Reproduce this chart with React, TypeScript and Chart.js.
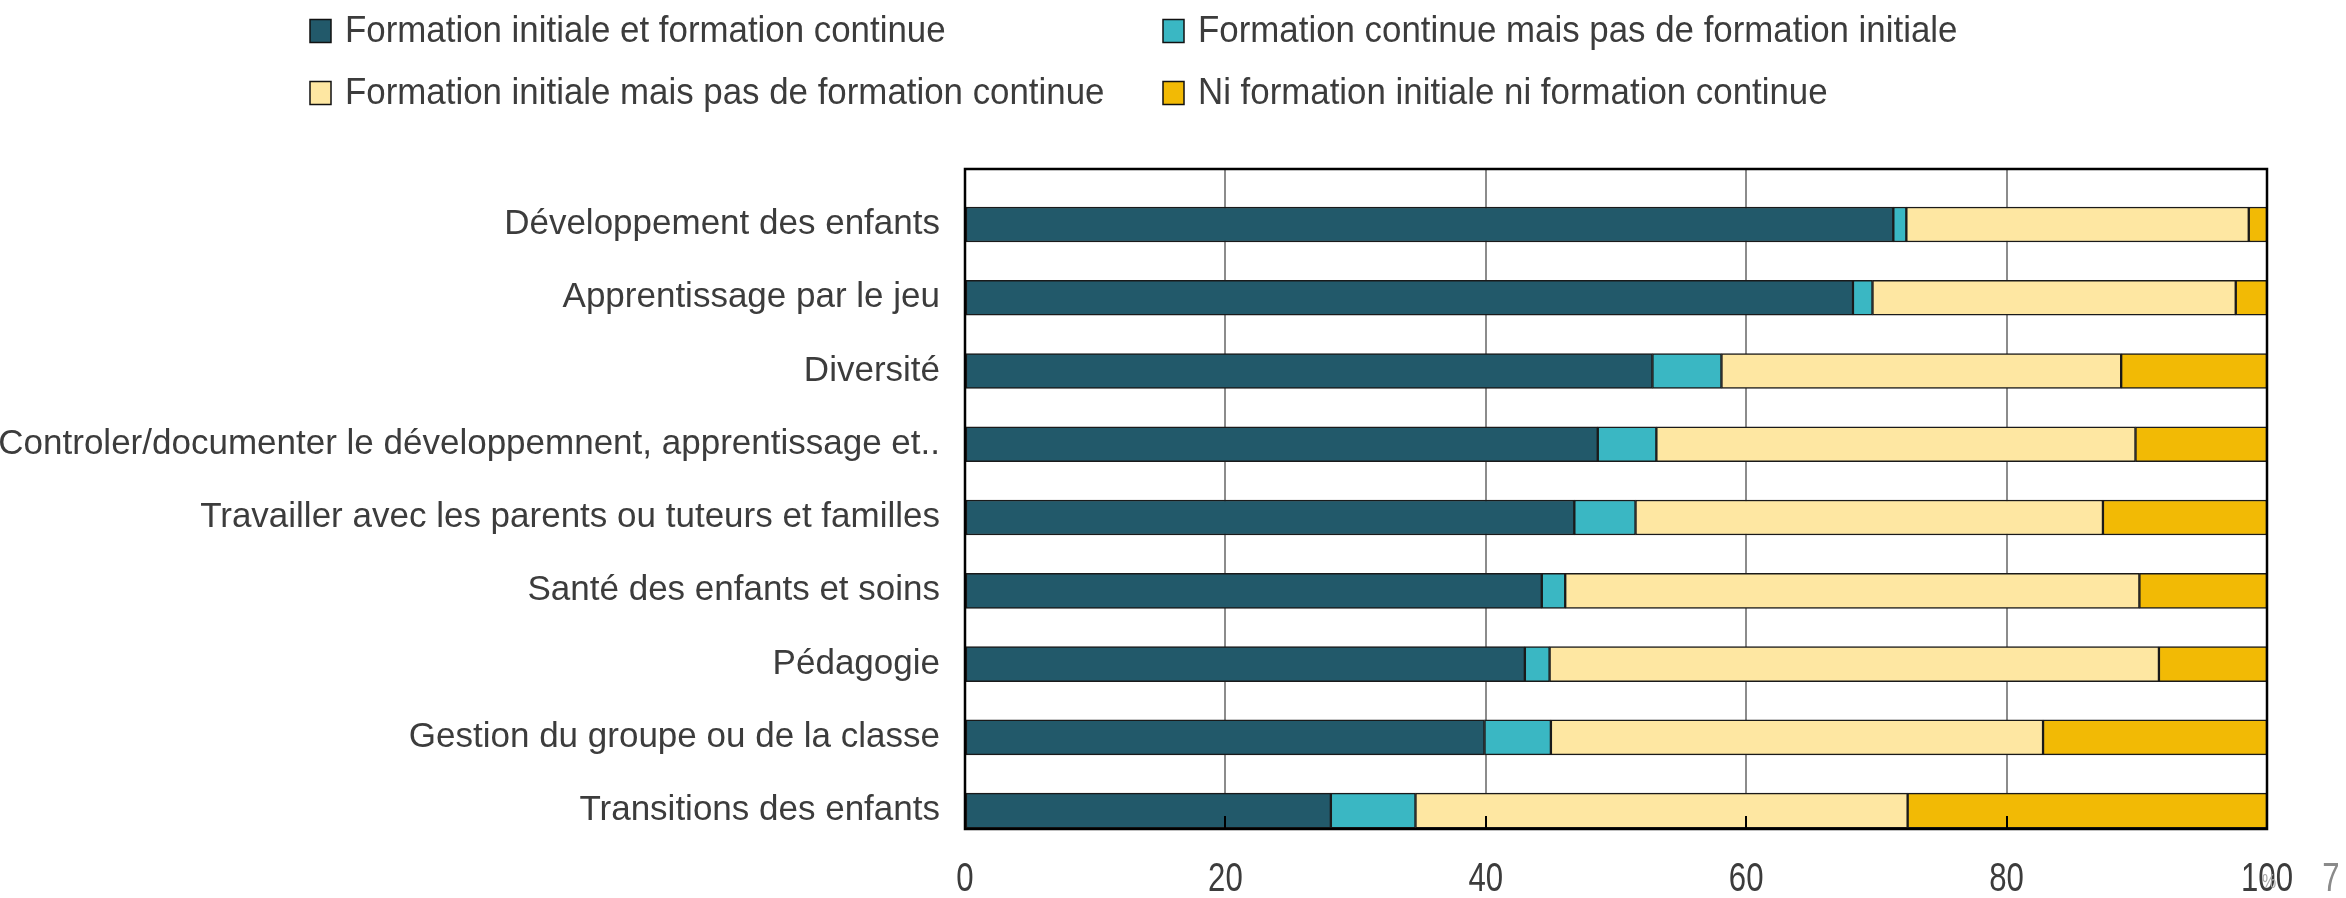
import React, { useEffect, useRef } from "react";
import { Chart, registerables } from "chart.js";

Chart.register(...registerables);

const CATEGORIES = [
  "Développement des enfants",
  "Apprentissage par le jeu",
  "Diversité",
  "Controler/documenter le développemnent, apprentissage et..",
  "Travailler avec les parents ou tuteurs et familles",
  "Santé des enfants et soins",
  "Pédagogie",
  "Gestion du groupe ou de la classe",
  "Transitions des enfants",
];

const SERIES_NAMES = [
  "Formation initiale et formation continue",
  "Formation continue mais pas de formation initiale",
  "Formation initiale mais pas de formation continue",
  "Ni formation initiale ni formation continue",
];

const INITIAL_AND_CONTINUING = [71.3, 68.2, 52.8, 48.6, 46.8, 44.3, 43.0, 39.9, 28.1];
const CONTINUING_ONLY = [1.0, 1.5, 5.3, 4.5, 4.7, 1.8, 1.9, 5.1, 6.5];
const INITIAL_ONLY = [26.3, 27.9, 30.7, 36.8, 35.9, 44.1, 46.8, 37.8, 37.8];
const NEITHER = [1.4, 2.4, 11.2, 10.1, 12.6, 9.8, 8.3, 17.2, 27.6];

const X_TICKS = [0, 20, 40, 60, 80, 100];

const COLORS = ["#22596A", "#3AB7C3", "#FEE7A2", "#F2BA05"];
const TEXT = "#3c3c3c";
const FONT = "'Liberation Sans', Arimo, Arial, sans-serif";

function condensedText(
  ctx: CanvasRenderingContext2D,
  text: string,
  x: number,
  y: number,
  size: number,
  squeeze: number,
  align: CanvasTextAlign,
  baseline: CanvasTextBaseline,
  color: string
) {
  ctx.save();
  ctx.font = `${size}px ${FONT}`;
  ctx.fillStyle = color;
  ctx.textAlign = align;
  ctx.textBaseline = baseline;
  ctx.translate(x, y);
  ctx.scale(squeeze, 1);
  ctx.fillText(text, 0, 0);
  ctx.restore();
}

export default function App() {
  const ref = useRef<HTMLCanvasElement>(null);

  useEffect(() => {
    const canvas = ref.current!;
    const seriesValues = [INITIAL_AND_CONTINUING, CONTINUING_ONLY, INITIAL_ONLY, NEITHER];

    const framePlugin = {
      id: "frame",
      afterDatasetsDraw(chart: any) {
        const { ctx, chartArea } = chart;
        const xs = chart.scales.x;
        ctx.save();
        ctx.strokeStyle = "#000";
        ctx.lineWidth = 2;
        X_TICKS.slice(1, -1).forEach((t) => {
          const px = Math.round(xs.getPixelForValue(t));
          ctx.beginPath();
          ctx.moveTo(px, chartArea.bottom);
          ctx.lineTo(px, chartArea.bottom - 13);
          ctx.stroke();
        });
        ctx.lineWidth = 2.5;
        ctx.strokeStyle = "#000";
        ctx.strokeRect(chartArea.left, chartArea.top, chartArea.right - chartArea.left, chartArea.bottom - chartArea.top);
        ctx.restore();
      },
      afterDraw(chart: any) {
        const { ctx } = chart;
        const xs = chart.scales.x;
        ctx.save();
        // legend (2 x 2 grid)
        const cols = [310, 1163];
        const rows = [31, 93];
        SERIES_NAMES.forEach((name, i) => {
          const cx = cols[i % 2];
          const cy = rows[Math.floor(i / 2)];
          ctx.fillStyle = COLORS[i];
          ctx.fillRect(cx, cy - 11.5, 21, 23);
          ctx.strokeStyle = "#111";
          ctx.lineWidth = 1.5;
          ctx.strokeRect(cx, cy - 11.5, 21, 23);
          condensedText(ctx, name, cx + 35, cy + 11, 37, 0.942, "left", "alphabetic", TEXT);
        });
        // x tick labels
        X_TICKS.forEach((t) => {
          condensedText(ctx, String(t), xs.getPixelForValue(t), 880, 41, 0.76, "center", "middle", TEXT);
        });
        const p100 = xs.getPixelForValue(100);
        condensedText(ctx, "%", p100 + 2, 882, 20, 0.8, "center", "middle", "#a8a8a8");
        condensedText(ctx, "7", p100 + 64, 880, 41, 0.76, "center", "middle", "#8a8a8a");
        ctx.restore();
      },
    };

    const chart = new Chart(canvas, {
      type: "bar",
      data: {
        datasets: SERIES_NAMES.map((name, s) => ({
          label: name,
          data: seriesValues[s].map((v, i) => ({ x: v, y: i })),
          backgroundColor: COLORS[s],
          borderColor: "#1a1a1a",
          borderWidth: 1.5,
          borderSkipped: false,
          barThickness: 35,
        })),
      },
      options: {
        indexAxis: "y",
        animation: false,
        responsive: false,
        maintainAspectRatio: false,
        layout: { padding: { top: 169, right: 79, left: 0, bottom: 0 } },
        plugins: {
          legend: { display: false },
          tooltip: { enabled: false },
          title: { display: false },
        },
        scales: {
          x: {
            type: "linear",
            stacked: true,
            min: 0,
            max: 100,
            afterBuildTicks: (scale: any) => {
              scale.ticks = X_TICKS.map((v) => ({ value: v }));
            },
            afterFit: (scale: any) => {
              scale.height = 69;
            },
            grid: { color: "#8c8c8c", lineWidth: 2, drawTicks: false },
            border: { display: false },
            ticks: { display: false },
          },
          y: {
            type: "linear",
            stacked: true,
            reverse: true,
            offset: false,
            min: -0.757,
            max: 8.251,
            afterBuildTicks: (scale: any) => {
              scale.ticks = CATEGORIES.map((_, i) => ({ value: i }));
            },
            afterFit: (scale: any) => {
              scale.width = 965;
            },
            grid: { display: false, drawTicks: false, offset: false },
            border: { display: false },
            ticks: {
              color: TEXT,
              font: { family: FONT, size: 35 },
              padding: 25,
              autoSkip: false,
              callback: (value: any) => CATEGORIES[Math.round(Number(value))] ?? "",
            },
          },
        },
      },
      plugins: [framePlugin],
    });

    return () => chart.destroy();
  }, []);

  return (
    <div style={{ position: "fixed", left: 0, top: 0, width: 2346, height: 898, background: "#fff" }}>
      <canvas ref={ref} width={2346} height={898} style={{ width: 2346, height: 898, display: "block" }} />
    </div>
  );
}
